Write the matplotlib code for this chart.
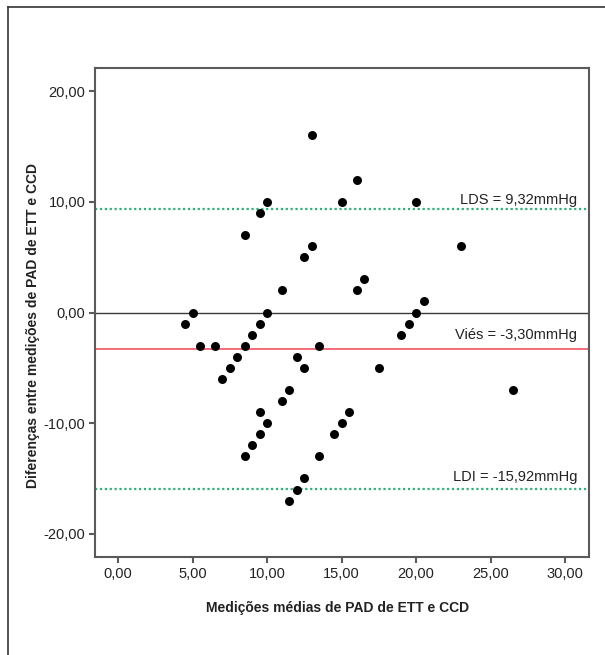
import matplotlib
matplotlib.use("Agg")
import matplotlib.pyplot as plt
from matplotlib.lines import Line2D
import matplotlib.transforms as mtransforms

plt.rcParams['font.family'] = ['Liberation Sans', 'DejaVu Sans']

# Bland-Altman data (mean of methods, difference)
mean_vals = [13.0, 16.0, 10.0, 15.0, 20.0, 9.5, 8.5, 13.0, 23.0, 12.5, 16.5,
             11.0, 16.0, 20.5, 5.0, 10.0, 20.0,
             4.5, 19.5, 19.0, 9.5, 9.0, 5.5, 6.5, 8.5, 13.5, 8.0, 12.0, 7.5,
             12.5, 17.5, 7.0, 26.5, 11.5, 11.0, 9.5, 15.5, 10.0, 15.0, 9.5,
             14.5, 9.0, 8.5, 13.5, 12.5, 12.0, 11.5]
diff_vals = [16, 12, 10, 10, 10, 9, 7, 6, 6, 5, 3,
             2, 2, 1, 0, 0, 0,
             -1, -1, -2, -1, -2, -3, -3, -3, -3, -4, -4, -5,
             -5, -5, -6, -7, -7, -8, -9, -9, -10, -10, -11,
             -11, -12, -13, -13, -15, -16, -17]

bias = -3.30
lds = 9.32
ldi = -15.92

xticks = [0, 5, 10, 15, 20, 25, 30]
yticks = [-20, -10, 0, 10, 20]

def fmt(v):
    return f"{v:.2f}".replace('.', ',')

W, H = 605, 655
fig = plt.figure(figsize=(W / 100, H / 100), dpi=100)
fig.patch.set_facecolor('white')

ax = fig.add_axes([95 / W, 1 - 557 / H, (589 - 95) / W, (557 - 68) / H])
ax.set_xlim(-1.55, 31.6)
ax.set_ylim(-22.1, 22.1)

spine_c = '#5a5a5a'
for s in ax.spines.values():
    s.set_color(spine_c)
    s.set_linewidth(1.5)

ax.axhline(0, color='#3a3a3a', lw=1.0, zorder=1)
ax.axhline(bias, color='#f2606e', lw=1.3, zorder=1)
ax.axhline(lds, color='#2eb27a', lw=1.6, ls=(0, (1, 1.2)), zorder=1)
ax.axhline(ldi, color='#2eb27a', lw=1.6, ls=(0, (1, 1.2)), zorder=1)

ax.scatter(mean_vals, diff_vals, s=42, color='black', zorder=3, linewidths=0)

ax.set_xticks(xticks)
ax.set_xticklabels([fmt(v) for v in xticks])
ax.set_yticks(yticks)
ax.set_yticklabels([fmt(v) for v in yticks])
ax.tick_params(axis='both', direction='out', length=4, width=1.5, color=spine_c,
               labelsize=10.5, labelcolor='#222222', pad=3)

trans = mtransforms.blended_transform_factory(ax.transAxes, ax.transData)
labels = [("LDS = 9,32mmHg", lds, 5), ("Viés = -3,30mmHg", bias, 10), ("LDI = -15,92mmHg", ldi, 7.5)]
for txt, yv, off in labels:
    ax.annotate(txt, xy=(0.976, yv), xycoords=trans, xytext=(0, off * 0.72),
                textcoords='offset points', ha='right', va='baseline',
                fontsize=10.5, color='#222222')

fig.text(337.5 / W, 1 - 607.7 / H, "Medições médias de PAD de ETT e CCD",
         ha='center', va='center', fontsize=10, fontweight='bold', color='#222222')
fig.text(33 / W, 1 - 325.6 / H, "Diferenças entre medições de PAD de ETT e CCD",
         ha='center', va='center', rotation=90, fontsize=10, fontweight='bold', color='#222222')

# outer frame (top and left)
fig.add_artist(Line2D([8 / W, 1.0], [1 - 7 / H, 1 - 7 / H], transform=fig.transFigure,
                      color='#333333', lw=1.2))
fig.add_artist(Line2D([8 / W, 8 / W], [1 - 7 / H, 0.0], transform=fig.transFigure,
                      color='#333333', lw=1.2))

fig.savefig("out.png", dpi=100, facecolor='white')
